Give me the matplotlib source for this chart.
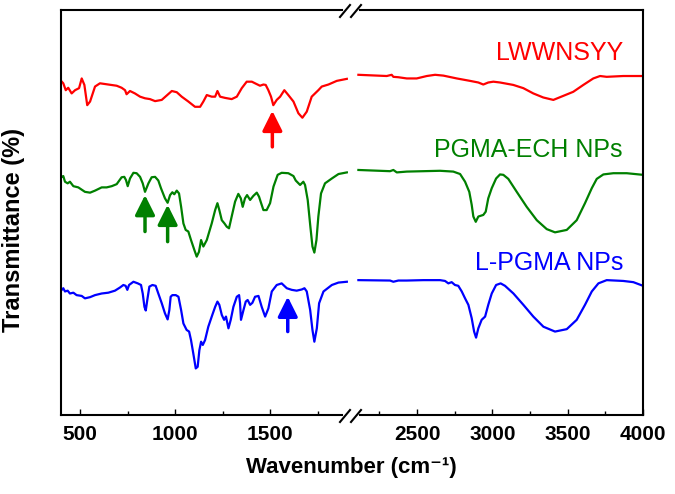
import matplotlib
matplotlib.use("Agg")
import matplotlib.pyplot as plt
from matplotlib.lines import Line2D

plt.rcParams['font.family'] = ['Liberation Sans', 'DejaVu Sans']

# FTIR spectra, offset transmittance (arbitrary units), split at the axis break
red_lo_wn = [404, 412, 425, 438, 456, 474, 495, 509, 523, 538, 553, 579, 605, 649, 693, 719,
             737, 745, 763, 789, 816, 842, 868, 895, 930, 983, 1009, 1035, 1070, 1105, 1132,
             1149, 1167, 1193, 1211, 1223, 1237, 1263, 1298, 1325, 1351, 1377, 1404, 1421,
             1447, 1465, 1477, 1491, 1505, 1517, 1535, 1553, 1575, 1596, 1623, 1649, 1670,
             1693, 1719, 1754, 1772, 1807, 1851, 1904]
red_lo_t = [82.3, 81.9, 80.2, 80.8, 79.4, 80.2, 80.7, 83.1, 81.5, 76.5, 77.4, 81.1, 81.9, 81.6,
            81.3, 80.8, 80.2, 79.2, 80.0, 79.4, 78.6, 78.2, 78.0, 77.5, 77.8, 80.0, 79.7, 78.6,
            77.4, 76.1, 76.1, 77.4, 79.0, 78.6, 78.6, 80.0, 78.6, 78.3, 78.0, 78.6, 80.7, 82.3,
            82.3, 81.9, 81.3, 81.6, 81.5, 80.2, 78.6, 76.5, 77.8, 78.6, 80.2, 79.0, 77.4, 74.5,
            73.4, 74.9, 78.6, 80.2, 81.1, 81.6, 82.5, 83.0]
red_hi_wn = [2111, 2299, 2332, 2343, 2376, 2432, 2498, 2565, 2620, 2675, 2764, 2852, 2907, 2940,
             2973, 3007, 3051, 3139, 3206, 3272, 3338, 3405, 3471, 3537, 3604, 3670, 3715, 3759,
             3869, 4000]
red_hi_t = [84.0, 83.7, 84.0, 83.5, 83.4, 83.1, 83.1, 83.7, 84.0, 83.8, 83.1, 82.5, 82.1, 81.6,
            82.1, 82.3, 82.1, 81.5, 80.7, 79.4, 78.4, 77.8, 78.8, 79.8, 81.5, 83.1, 83.7, 83.5,
            83.7, 83.7]

green_lo_wn = [404, 412, 421, 435, 447, 465, 491, 526, 553, 579, 614, 640, 667, 693, 719, 733,
               742, 751, 763, 781, 798, 816, 830, 842, 860, 877, 895, 912, 926, 947, 961, 974,
               986, 996, 1009, 1021, 1032, 1044, 1056, 1070, 1084, 1102, 1114, 1126, 1137, 1149,
               1167, 1193, 1211, 1223, 1233, 1246, 1260, 1272, 1284, 1298, 1316, 1333, 1346,
               1356, 1368, 1379, 1395, 1412, 1430, 1442, 1453, 1465, 1482, 1500, 1518, 1540,
               1561, 1596, 1623, 1635, 1658, 1675, 1684, 1698, 1712, 1723, 1733, 1744, 1754,
               1768, 1789, 1825, 1860, 1904]
green_lo_t = [58.8, 59.0, 57.6, 57.2, 57.6, 56.5, 56.2, 55.1, 54.9, 55.4,
              56.2, 56.2, 56.5, 57.0, 58.7, 58.8, 58.0, 56.5, 58.4, 59.8,
              59.7, 58.8, 57.2, 55.1, 57.2, 58.7, 58.8, 57.9, 56.0, 53.5,
              52.4, 54.3, 55.0, 54.5, 55.4, 54.7, 51.4, 47.3, 45.7, 45.3,
              43.2, 40.7, 39.1, 40.3, 43.2, 41.6, 43.2, 47.3, 50.6, 52.3,
              50.6, 48.1, 47.3, 46.5, 46.1, 49.0, 52.7, 54.6, 53.5, 51.4,
              53.5, 54.3, 53.1, 54.1, 54.9, 53.9, 52.3, 50.6, 50.6, 52.3,
              56.4, 59.3, 59.8, 59.7, 59.0, 57.9, 56.8, 57.6, 56.8, 53.1,
              46.5, 41.6, 40.1, 43.2, 49.0, 54.7, 57.2, 58.4, 59.5, 59.9]
green_hi_wn = [2111, 2321, 2343, 2366, 2432, 2542, 2653, 2741, 2786, 2819, 2847, 2863, 2874,
               2890, 2907, 2940, 2956, 2973, 2996, 3025, 3051, 3073, 3106, 3162, 3228, 3295,
               3361, 3416, 3494, 3560, 3615, 3660, 3693, 3737, 3803, 3892, 4000]
green_hi_t = [60.5, 60.2, 60.5, 59.9, 60.1, 60.2, 60.3, 60.1, 59.5, 57.6, 55.1, 51.9, 49.0,
              47.7, 49.0, 49.4, 50.2, 53.5, 56.0, 58.4, 59.4, 59.3, 58.3, 55.1, 51.4, 48.1,
              45.9, 45.1, 45.7, 48.1, 52.3, 56.0, 58.3, 59.4, 59.7, 59.7, 59.3]

blue_lo_wn = [404, 412, 421, 435, 447, 465, 482, 509, 526, 553, 579, 614, 649, 684, 711, 728,
              740, 749, 758, 781, 804, 821, 830, 839, 846, 854, 865, 881, 898, 912, 930, 947,
              961, 970, 977, 986, 1004, 1018, 1032, 1044, 1061, 1074, 1084, 1096, 1109, 1119,
              1128, 1137, 1146, 1158, 1175, 1196, 1211, 1223, 1233, 1246, 1258, 1268, 1281,
              1293, 1307, 1325, 1337, 1342, 1347, 1360, 1372, 1382, 1395, 1407, 1421, 1439,
              1456, 1474, 1491, 1509, 1535, 1561, 1588, 1614, 1640, 1667, 1681, 1693, 1711,
              1723, 1733, 1746, 1758, 1781, 1825, 1860, 1904]
blue_lo_t = [30.9, 31.3, 30.5, 30.7, 30.0, 30.2, 29.6, 29.4, 28.8, 29.1,
             29.6, 30.0, 30.2, 30.7, 31.5, 32.1, 31.9, 30.9, 32.1, 32.9,
             32.5, 32.1, 30.0, 26.7, 25.8, 28.4, 31.7, 32.1, 31.9, 30.0,
             27.6, 25.1, 23.6, 25.9, 29.2, 29.6, 29.6, 29.2, 25.9, 22.6,
             21.0, 20.6, 18.5, 15.2, 11.5, 11.9, 16.0, 18.1, 17.3, 18.5,
             21.8, 24.7, 26.7, 28.0, 27.2, 24.7, 23.5, 24.3, 21.4, 23.5,
             26.7, 29.2, 29.6, 27.6, 23.5, 25.9, 28.0, 28.4, 27.2, 27.7,
             29.2, 29.4, 26.7, 24.3, 26.3, 30.5, 32.1, 32.5, 31.3, 30.9,
             30.7, 31.0, 31.3, 30.5, 25.9, 21.0, 18.1, 21.4, 27.6, 30.5,
             32.1, 32.7, 32.9]
blue_hi_wn = [2111, 2321, 2343, 2376, 2432, 2542, 2653, 2686, 2708, 2730, 2752, 2774, 2797,
              2819, 2841, 2863, 2879, 2892, 2907, 2929, 2952, 2973, 2996, 3025, 3055, 3084,
              3140, 3206, 3272, 3339, 3416, 3494, 3560, 3615, 3660, 3704, 3759, 3869, 3936, 4000]
blue_hi_t = [33.3, 33.2, 32.9, 33.2, 33.2, 33.3, 33.3, 33.1, 32.5, 32.8, 32.1, 31.9, 30.5,
             28.8, 27.2, 23.9, 20.6, 19.1, 21.4, 23.5, 24.3, 27.2, 30.0, 32.1, 32.5, 31.9,
             30.0, 27.2, 24.3, 21.8, 20.6, 21.2, 23.5, 27.2, 30.5, 32.5, 33.3, 33.1, 32.8, 31.9]

names = ["LWWNSYY", "PGMA-ECH NPs", "L-PGMA NPs"]
colors = ["#ff0000", "#008000", "#0000ff"]
label_y = [89.4, 65.4, 37.5]

# arrows: (wavenumber, tail, tip)
red_arrows = [(1512, 66.2, 75.1)]
green_arrows = [(842, 45.3, 54.3), (961, 42.8, 51.9)]
blue_arrows = [(1593, 20.6, 29.2)]

W, H = 675, 494
fig = plt.figure(figsize=(W / 100, H / 100), dpi=100)
brk = 348
ax1 = fig.add_axes([61 / W, 1 - 415 / H, (brk - 61) / W, 405 / H])
ax2 = fig.add_axes([brk / W, 1 - 415 / H, (643 - brk) / W, 405 / H])

series = [(red_lo_wn, red_lo_t, red_hi_wn, red_hi_t),
          (green_lo_wn, green_lo_t, green_hi_wn, green_hi_t),
          (blue_lo_wn, blue_lo_t, blue_hi_wn, blue_hi_t)]
for (lw_, lt, hw, ht), c in zip(series, colors):
    ax1.plot(lw_, lt, color=c, lw=1.6)
    ax2.plot(hw, ht, color=c, lw=1.6)

for name, c, y in zip(names, colors, label_y):
    ax2.text(3867, y, name, color=c, fontsize=18, ha="right", va="center")

for arrows, c in [(red_arrows, colors[0]), (green_arrows, colors[1]), (blue_arrows, colors[2])]:
    for x, y0, y1 in arrows:
        ax1.annotate("", xy=(x, y1), xytext=(x, y0),
                     arrowprops=dict(arrowstyle="-|>,head_width=0.3,head_length=0.6",
                                     mutation_scale=20, color=c, lw=2.5, shrinkA=0, shrinkB=0))

ax1.set_xlim(400, 1910)
ax2.set_xlim(2042, 4000)
ax1.set_xticks([500, 1000, 1500])
ax1.set_xticks([750, 1250, 1750], minor=True)
ax2.set_xticks([2500, 3000, 3500, 4000])
ax2.set_xticks([2250, 2750, 3250, 3750], minor=True)
for ax in (ax1, ax2):
    ax.set_ylim(0, 100)
    ax.set_yticks([])
    for s in ax.spines.values():
        s.set_linewidth(1.5)
    ax.tick_params(axis="x", which="both", direction="in", top=False, labelsize=15, pad=7)
    ax.tick_params(axis="x", which="major", length=4.5, width=1)
    ax.tick_params(axis="x", which="minor", length=3, width=1)
    for t in ax.get_xticklabels():
        t.set_fontweight("bold")

ax1.spines["right"].set_visible(False)
ax2.spines["left"].set_visible(False)
ax1.spines["top"].set_bounds(400, 1879)
ax1.spines["bottom"].set_bounds(400, 1879)
ax2.spines["top"].set_bounds(2122, 4000)
ax2.spines["bottom"].set_bounds(2122, 4000)

# break marks
for py in (11, 416):
    for x0 in (340, 351):
        fig.add_artist(Line2D([x0 / W, (x0 + 10) / W], [1 - (py + 6) / H, 1 - (py - 6) / H],
                              color="black", lw=1.5, transform=fig.transFigure))

fig.text(351 / W, 1 - 467 / H, "Wavenumber (cm\u207b\u00b9)", ha="center", va="center",
         fontsize=16, fontweight="bold")
fig.text(14 / W, 1 - 230 / H, "Transmittance (%)", ha="center", va="center",
         rotation=90, fontsize=17, fontweight="bold")

fig.savefig("out.png", dpi=100)
